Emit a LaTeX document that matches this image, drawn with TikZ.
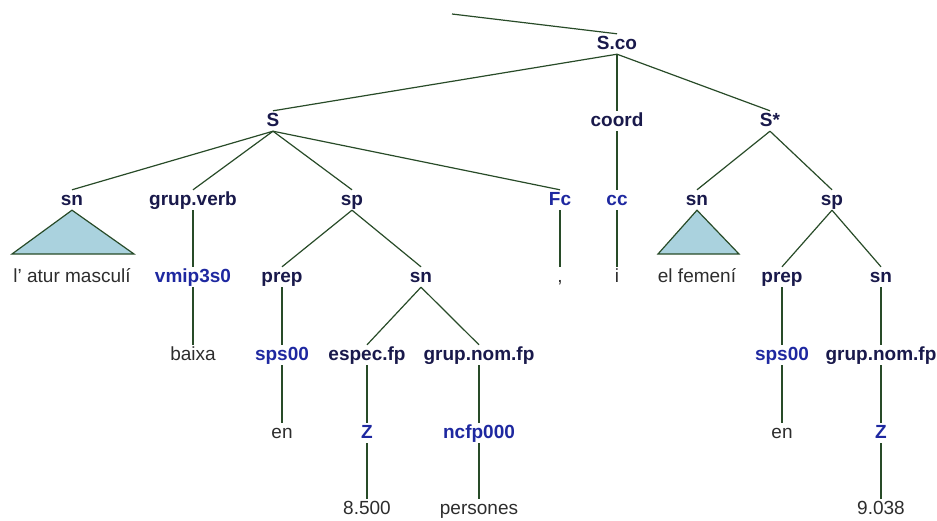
\documentclass[tikz,border=0pt]{standalone}
\usepackage{fontspec}
\setmainfont{Liberation Sans}
\usetikzlibrary{positioning}
\definecolor{edgegreen}{RGB}{40,75,40}
\definecolor{catnavy}{RGB}{25,25,75}
\definecolor{tagblue}{RGB}{30,40,160}
\definecolor{wordgray}{RGB}{45,45,45}
\definecolor{trifill}{RGB}{170,210,222}

\begin{document}
\begin{tikzpicture}[x=1pt,y=-1pt,
    every node/.style={inner sep=1pt,text height=14pt,text depth=4pt,font=\fontsize{19}{22}\selectfont},
    cat/.style={text=catnavy,font=\fontsize{19}{22}\selectfont\bfseries},
    tag/.style={text=tagblue,font=\fontsize{19}{22}\selectfont\bfseries},
    word/.style={text=wordgray},
    br/.style={draw=edgegreen,line width=1.2pt}]
    \useasboundingbox (0,0) rectangle (937,520);
    % root and first level
    \coordinate (top) at (452,14);
    \node[cat] (sco) at (617,44) {S.co};
    \node[cat] (s) at (273,121) {S};
    \node[cat] (coord) at (617,121) {coord};
    \node[cat] (sstar) at (770,121) {S*};
    % phrases
    \node[cat] (sn1) at (72,200) {sn};
    \node[cat] (gv) at (193,200) {grup.verb};
    \node[cat] (sp1) at (352,200) {sp};
    \node[tag] (fc) at (560,200) {Fc};
    \node[tag] (cc) at (617,200) {cc};
    \node[cat] (sn2) at (697,200) {sn};
    \node[cat] (sp2) at (832,200) {sp};
    % fourth row
    \node[word] (w1) at (72,277) {l’ atur masculí};
    \node[tag] (vmip) at (193,277) {vmip3s0};
    \node[cat] (prep1) at (282,277) {prep};
    \node[cat] (sn3) at (421,277) {sn};
    \node[word] (comma) at (560,277) {,};
    \node[word] (conj) at (617,277) {i};
    \node[word] (w2) at (697,277) {el femení};
    \node[cat] (prep2) at (782,277) {prep};
    \node[cat] (sn4) at (881,277) {sn};
    % fifth row
    \node[word] (baixa) at (193,355) {baixa};
    \node[tag] (sps1) at (282,355) {sps00};
    \node[cat] (espec) at (367,355) {espec.fp};
    \node[cat] (gnom1) at (479,355) {grup.nom.fp};
    \node[tag] (sps2) at (782,355) {sps00};
    \node[cat] (gnom2) at (881,355) {grup.nom.fp};
    % sixth row
    \node[word] (en1) at (282,433) {en};
    \node[tag] (z1) at (367,433) {Z};
    \node[tag] (ncfp) at (479,433) {ncfp000};
    \node[word] (en2) at (782,433) {en};
    \node[tag] (z2) at (881,433) {Z};
    % last row
    \node[word] (n8500) at (367,509) {8.500};
    \node[word] (pers) at (479,509) {persones};
    \node[word] (n9038) at (881,509) {9.038};

    \draw[br] (top) -- (sco.north);
    \foreach \a/\b in {sco/s,sco/coord,sco/sstar,s/sn1,s/gv,s/sp1,s/fc,
        coord/cc,sstar/sn2,sstar/sp2,gv/vmip,sp1/prep1,sp1/sn3,fc/comma,
        cc/conj,sp2/prep2,sp2/sn4,vmip/baixa,prep1/sps1,sn3/espec,sn3/gnom1,
        prep2/sps2,sn4/gnom2,sps1/en1,espec/z1,gnom1/ncfp,sps2/en2,gnom2/z2,
        z1/n8500,ncfp/pers,z2/n9038}
        \draw[br] (\a.south) -- (\b.north);
    % collapsed subtrees
    \draw[br,fill=trifill] (sn1.south) -- (134,254) -- (12,254) -- cycle;
    \draw[br,fill=trifill] (sn2.south) -- (739,254) -- (658,254) -- cycle;
\end{tikzpicture}
\end{document}
